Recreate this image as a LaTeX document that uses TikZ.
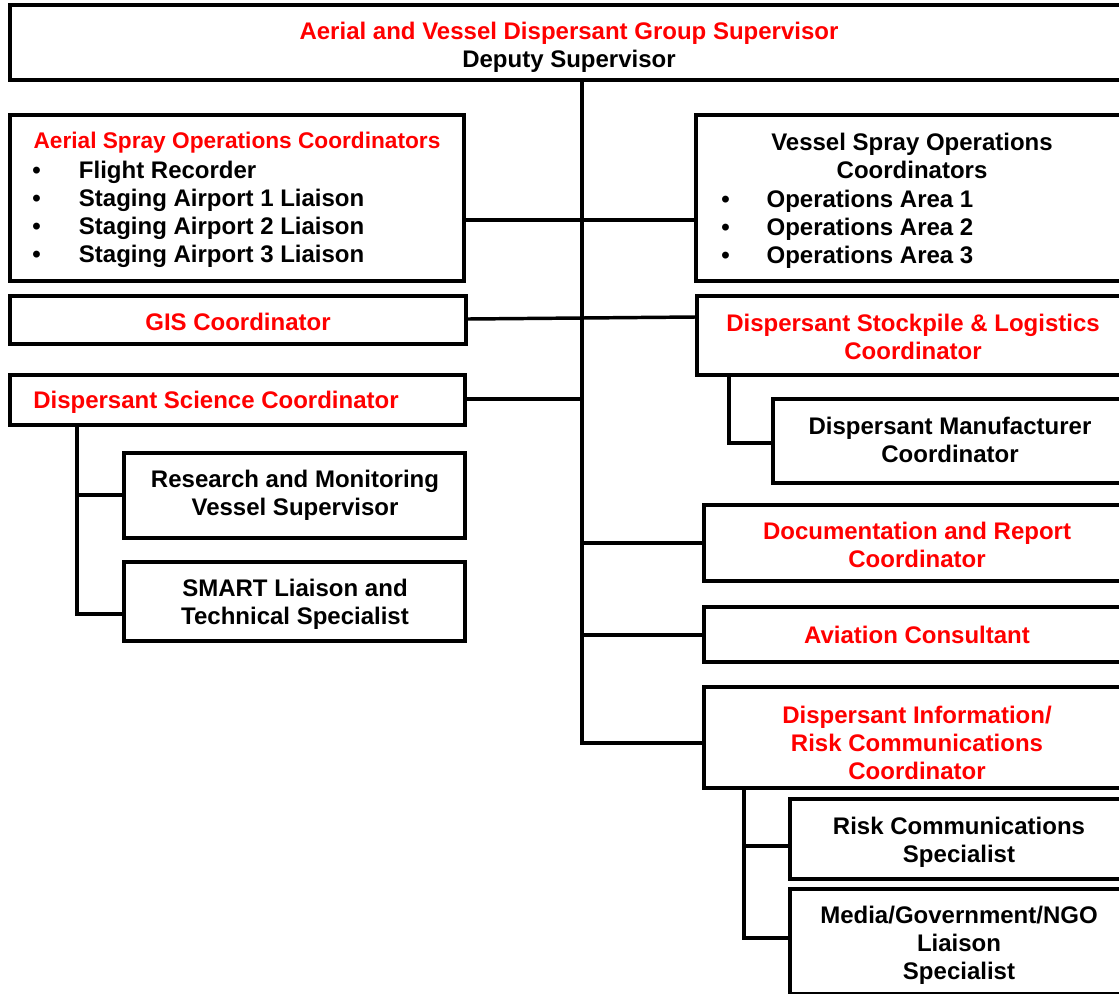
\documentclass[tikz,border=0pt]{standalone}
\usepackage{fontspec}
\setmainfont{Liberation Sans}
\usetikzlibrary{fit}
\definecolor{hdred}{RGB}{255,0,0}
\newcommand{\bul}[1]{\makebox[#1][l]{\textbullet}}
\begin{document}
\begin{tikzpicture}[x=0.75pt,y=-0.75pt,
  box/.style={draw=black, line width=2.6pt, inner sep=0pt, fill=white},
  wire/.style={draw=black, line width=2.6pt},
  lbl/.style={font=\fontsize{18}{21}\selectfont\bfseries, align=center, inner sep=0pt},
  redlbl/.style={lbl, text=hdred},
  listlbl/.style={lbl, align=left, anchor=west}]
\useasboundingbox (0,0) rectangle (1119,993);
\clip (0,0) rectangle (1119,993);

% boxes
\node[box, fit={(10,5) (1128,80)}] (sup) {};
\node[box, fit={(10,115) (464,281)}] (aerial) {};
\node[box, fit={(696,115) (1128,281)}] (vessel) {};
\node[box, fit={(10,296) (466,344)}] (gis) {};
\node[box, fit={(697,296) (1128,375)}] (stock) {};
\node[box, fit={(10,375) (465,425)}] (science) {};
\node[box, fit={(124,453) (465,538)}] (research) {};
\node[box, fit={(124,562) (465,641)}] (smart) {};
\node[box, fit={(773,399) (1128,483)}] (manuf) {};
\node[box, fit={(704,505) (1128,581)}] (doc) {};
\node[box, fit={(704,607) (1128,662)}] (aviation) {};
\node[box, fit={(704,687) (1128,788)}] (dirc) {};
\node[box, fit={(790,799) (1128,879)}] (risk) {};
\node[box, fit={(790,889) (1128,994)}] (media) {};

% connectors
\draw[wire] (sup.south -| 582,0) -- (582,743) -- (dirc.west |- 0,743);
\draw[wire] (aerial.east |- 0,220) -- (vessel.west |- 0,220);
\draw[wire] (gis.east |- 0,319) -- (stock.west |- 0,317);
\draw[wire] (science.east |- 0,399) -- (582,399);
\draw[wire] (582,543) -- (doc.west |- 0,543);
\draw[wire] (582,635) -- (aviation.west |- 0,635);
\draw[wire] (science.south -| 77,0) -- (77,614) -- (smart.west |- 0,614);
\draw[wire] (77,495) -- (research.west |- 0,495);
\draw[wire] (stock.south -| 729,0) -- (729,443) -- (manuf.west |- 0,443);
\draw[wire] (dirc.south -| 744,0) -- (744,938) -- (media.west |- 0,938);
\draw[wire] (744,846) -- (risk.west |- 0,846);

% labels
\node[lbl] (sup-t) at (569,47) {\textcolor{hdred}{Aerial and Vessel Dispersant Group Supervisor}\\Deputy Supervisor};
\node[redlbl, font=\fontsize{17}{21}\selectfont\bfseries] (aerial-t) at (237,143) {Aerial Spray Operations Coordinators};
\node[listlbl] (aerial-l) at (32,214) {\bul{35pt}Flight Recorder\\\bul{35pt}Staging Airport 1 Liaison\\\bul{35pt}Staging Airport 2 Liaison\\\bul{35pt}Staging Airport 3 Liaison};
\node[lbl] (vessel-t) at (912,156) {Vessel Spray Operations\\Coordinators};
\node[listlbl] (vessel-l) at (721,229) {\bul{34pt}Operations Area 1\\\bul{34pt}Operations Area 2\\\bul{34pt}Operations Area 3};
\node[redlbl] (gis-t) at (238,321.5) {GIS Coordinator};
\node[redlbl] (stock-t) at (913,337) {Dispersant Stockpile \& Logistics\\Coordinator};
\node[redlbl, anchor=west] (science-t) at (33,402) {Dispersant Science Coordinator};
\node[lbl] (research-t) at (295,495) {Research and Monitoring\\Vessel Supervisor};
\node[lbl] (smart-t) at (295,604) {SMART Liaison and\\Technical Specialist};
\node[lbl] (manuf-t) at (950,440) {Dispersant Manufacturer\\Coordinator};
\node[redlbl] (doc-t) at (917,545) {Documentation and Report\\Coordinator};
\node[redlbl] (aviation-t) at (917,635) {Aviation Consultant};
\node[redlbl] (dirc-t) at (917,742.5) {Dispersant Information/\\Risk Communications\\Coordinator};
\node[lbl] (risk-t) at (959,842) {Risk Communications\\Specialist};
\node[lbl] (media-t) at (959,945) {Media/Government/NGO\\Liaison\\Specialist};
\end{tikzpicture}
\end{document}
